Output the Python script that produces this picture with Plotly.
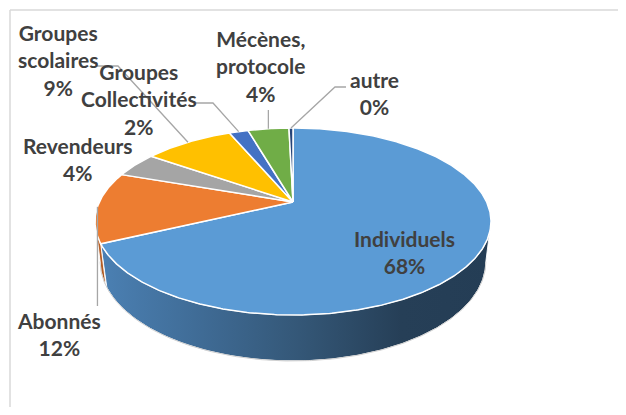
import math
import plotly.graph_objects as go

# ---- data ----
categories = ["Individuels", "Abonnés", "Revendeurs", "Groupes scolaires",
              "Groupes Collectivités", "Mécènes, protocole", "autre"]
values = [68.0, 12.3, 4.4, 8.9, 1.9, 4.1, 0.4]
label_text = ["Individuels", "Abonnés", "Revendeurs", "Groupes<br>scolaires",
              "Groupes<br>Collectivités", "Mécènes,<br>protocole", "autre"]
colors = ["#5B9BD5", "#ED7D31", "#A5A5A5", "#FFC000", "#4472C4", "#70AD47", "#264478"]

# ---- 3D projection (perspective) ----
W, H = 626, 415
OFF = 8  # page body margin compensation
SIN_E = 0.4618
COS_E = math.sqrt(1 - SIN_E ** 2)
DIST = 4.253
FOC = 823.6
CX, CY = 293.0, 202.0
THICK = 0.2357


def proj(theta_deg, yy=0.0, r=1.0):
    t = math.radians(theta_deg)
    x = r * math.sin(t)
    z = -r * math.cos(t)
    v = yy * COS_E - z * SIN_E
    w = z * COS_E + yy * SIN_E
    d = DIST - w
    return CX + FOC * x / d, CY - FOC * v / d


def arc(a, b, yy=0.0, n=None):
    if n is None:
        n = max(2, int(abs(b - a) * 2) + 2)
    pts = [proj(a + (b - a) * i / (n - 1), yy) for i in range(n)]
    return [p[0] for p in pts], [p[1] for p in pts]


total = sum(values)
bounds = []
acc = 0.0
for v in values:
    start = acc / total * 360
    acc += v
    bounds.append((start, acc / total * 360))

fig = go.Figure()

# ---- side walls (front, visible part only) ----
VIS_A, VIS_B = 101.7, 258.3
wall_grad = {
    0: [[0, "#4B80B3"], [0.26, "#3F6B95"], [0.51, "#345777"], [0.77, "#263F57"], [1, "#243D55"]],
    1: [[0, "#C4672C"], [1, "#A9561F"]],
}
for i, (a, b) in enumerate(bounds):
    a2, b2 = max(a, VIS_A), min(b, VIS_B)
    if b2 <= a2:
        continue
    tx, ty = arc(a2, b2, 0.0)
    bx, by = arc(a2, b2, -THICK)
    xs = tx + bx[::-1] + [tx[0]]
    ys = ty + by[::-1] + [ty[0]]
    tr = dict(x=xs, y=ys, mode="lines", fill="toself",
              line=dict(color="rgba(255,255,255,0.9)", width=1),
              hoverinfo="skip", showlegend=False)
    if i in wall_grad:
        tr["fillgradient"] = dict(type="horizontal", colorscale=wall_grad[i])
    else:
        tr["fillcolor"] = colors[i]
    fig.add_trace(go.Scatter(**tr))

# bottom rim faint outline
bx, by = arc(VIS_A, VIS_B, -THICK)
fig.add_trace(go.Scatter(x=bx, y=by, mode="lines",
                         line=dict(color="#D0D0D0", width=1),
                         hoverinfo="skip", showlegend=False))

# ---- top faces ----
for i, (a, b) in enumerate(bounds):
    ax_, ay_ = arc(a, b, 0.0)
    xs = [CX] + ax_ + [CX]
    ys = [CY] + ay_ + [CY]
    fig.add_trace(go.Scatter(x=xs, y=ys, mode="lines", fill="toself",
                             fillcolor=colors[i],
                             line=dict(color="white", width=1.5),
                             hoverinfo="skip", showlegend=False))

# ---- labels ----
pct = [f"{round(v / total * 100)}%" for v in values]
label_pos = {  # label centre (px)
    0: (404, 252),
    1: (59, 334),
    2: (78, 159),
    3: (58, 60),
    4: (139, 99),
    5: (261, 66),
    6: (374, 93),
}
font = dict(family="Lato, Carlito, Calibri, sans-serif", size=21, color="#404040")
for i in range(len(values)):
    x, y = label_pos[i]
    fig.add_annotation(x=x, y=y, xref="x", yref="y", text=f"<b>{label_text[i]}<br>{pct[i]}</b>",
                       showarrow=False, font=font, align="center",
                       xanchor="center", yanchor="middle")

# ---- leader lines ----
def mid(i):
    a, b = bounds[i]
    return proj((a + b) / 2, 0.0)

leaders = {
    1: [("v", 306)],
    3: [(97, 66), (118, 66)],
    4: [(196, 103), (213, 103)],
    5: [("v", 110)],
    6: [(346, 87), (335, 87)],
}
for i, pts in leaders.items():
    ex, ey = mid(i)
    xs, ys = [], []
    for p in pts:
        if p[0] == "v":
            xs.append(ex)
            ys.append(p[1])
        else:
            xs.append(p[0])
            ys.append(p[1])
    xs.append(ex)
    ys.append(ey)
    fig.add_trace(go.Scatter(x=xs, y=ys, mode="lines",
                             line=dict(color="#A6A6A6", width=1.3),
                             hoverinfo="skip", showlegend=False))

# ---- frame ----
FW, FH = W - 2 * OFF, H - 2 * OFF
fig.add_shape(type="line", x0=10, y0=10, x1=W + 20, y1=10, xref="x", yref="y",
              line=dict(color="#D9D9D9", width=1.5))
fig.add_shape(type="line", x0=10, y0=10, x1=10, y1=H + 20, xref="x", yref="y",
              line=dict(color="#D9D9D9", width=1.5))

fig.update_layout(
    width=FW, height=FH,
    margin=dict(l=0, r=0, t=0, b=0),
    paper_bgcolor="white", plot_bgcolor="white",
    xaxis=dict(range=[OFF, OFF + FW], visible=False, fixedrange=True),
    yaxis=dict(range=[OFF + FH, OFF], visible=False, fixedrange=True),
    showlegend=False,
)

fig.write_html("out.html")
